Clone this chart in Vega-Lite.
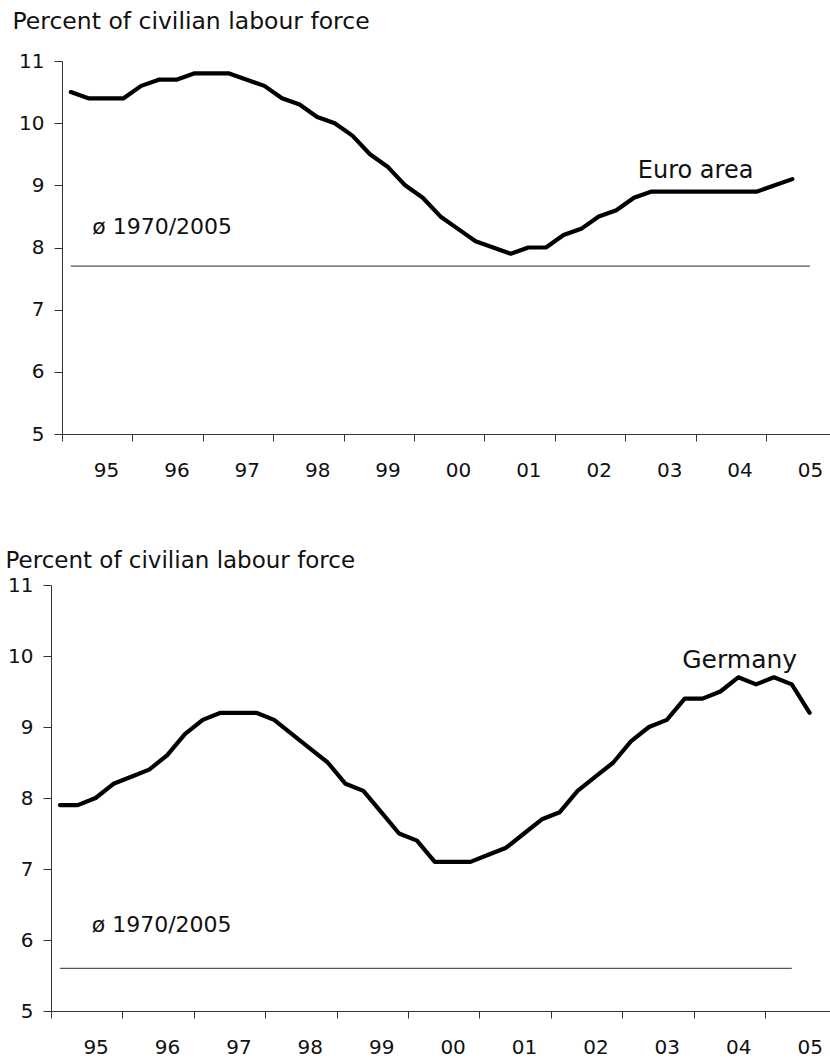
{
  "$schema": "https://vega.github.io/schema/vega-lite/v6.json",
  "padding": {"left": 5, "top": 9, "right": 0, "bottom": 0},
  "spacing": 69,
  "background": "white",
  "config": {
    "view": {"stroke": null},
    "font": "DejaVu Sans",
    "axis": {"labelFont": "DejaVu Sans", "titleFont": "DejaVu Sans", "labelColor": "#111", "titleColor": "#111", "domainColor": "#333", "tickColor": "#333", "grid": false, "titleFontWeight": "normal"},
    "text": {"font": "DejaVu Sans", "color": "#111"}
  },
  "datasets": {
    "euro": [
      {"t": 1995.125, "v": 10.5}, {"t": 1995.375, "v": 10.4}, {"t": 1995.625, "v": 10.4}, {"t": 1995.875, "v": 10.4},
      {"t": 1996.125, "v": 10.6}, {"t": 1996.375, "v": 10.7}, {"t": 1996.625, "v": 10.7}, {"t": 1996.875, "v": 10.8},
      {"t": 1997.125, "v": 10.8}, {"t": 1997.375, "v": 10.8}, {"t": 1997.625, "v": 10.7}, {"t": 1997.875, "v": 10.6},
      {"t": 1998.125, "v": 10.4}, {"t": 1998.375, "v": 10.3}, {"t": 1998.625, "v": 10.1}, {"t": 1998.875, "v": 10.0},
      {"t": 1999.125, "v": 9.8}, {"t": 1999.375, "v": 9.5}, {"t": 1999.625, "v": 9.3}, {"t": 1999.875, "v": 9.0},
      {"t": 2000.125, "v": 8.8}, {"t": 2000.375, "v": 8.5}, {"t": 2000.625, "v": 8.3}, {"t": 2000.875, "v": 8.1},
      {"t": 2001.125, "v": 8.0}, {"t": 2001.375, "v": 7.9}, {"t": 2001.625, "v": 8.0}, {"t": 2001.875, "v": 8.0},
      {"t": 2002.125, "v": 8.2}, {"t": 2002.375, "v": 8.3}, {"t": 2002.625, "v": 8.5}, {"t": 2002.875, "v": 8.6},
      {"t": 2003.125, "v": 8.8}, {"t": 2003.375, "v": 8.9}, {"t": 2003.625, "v": 8.9}, {"t": 2003.875, "v": 8.9},
      {"t": 2004.125, "v": 8.9}, {"t": 2004.375, "v": 8.9}, {"t": 2004.625, "v": 8.9}, {"t": 2004.875, "v": 8.9},
      {"t": 2005.125, "v": 9.0}, {"t": 2005.375, "v": 9.1}
    ],
    "germany": [
      {"t": 1995.125, "v": 7.9}, {"t": 1995.375, "v": 7.9}, {"t": 1995.625, "v": 8.0}, {"t": 1995.875, "v": 8.2},
      {"t": 1996.125, "v": 8.3}, {"t": 1996.375, "v": 8.4}, {"t": 1996.625, "v": 8.6}, {"t": 1996.875, "v": 8.9},
      {"t": 1997.125, "v": 9.1}, {"t": 1997.375, "v": 9.2}, {"t": 1997.625, "v": 9.2}, {"t": 1997.875, "v": 9.2},
      {"t": 1998.125, "v": 9.1}, {"t": 1998.375, "v": 8.9}, {"t": 1998.625, "v": 8.7}, {"t": 1998.875, "v": 8.5},
      {"t": 1999.125, "v": 8.2}, {"t": 1999.375, "v": 8.1}, {"t": 1999.625, "v": 7.8}, {"t": 1999.875, "v": 7.5},
      {"t": 2000.125, "v": 7.4}, {"t": 2000.375, "v": 7.1}, {"t": 2000.625, "v": 7.1}, {"t": 2000.875, "v": 7.1},
      {"t": 2001.125, "v": 7.2}, {"t": 2001.375, "v": 7.3}, {"t": 2001.625, "v": 7.5}, {"t": 2001.875, "v": 7.7},
      {"t": 2002.125, "v": 7.8}, {"t": 2002.375, "v": 8.1}, {"t": 2002.625, "v": 8.3}, {"t": 2002.875, "v": 8.5},
      {"t": 2003.125, "v": 8.8}, {"t": 2003.375, "v": 9.0}, {"t": 2003.625, "v": 9.1}, {"t": 2003.875, "v": 9.4},
      {"t": 2004.125, "v": 9.4}, {"t": 2004.375, "v": 9.5}, {"t": 2004.625, "v": 9.7}, {"t": 2004.875, "v": 9.6},
      {"t": 2005.125, "v": 9.7}, {"t": 2005.375, "v": 9.6}, {"t": 2005.625, "v": 9.2}
    ],
    "euroAvg": [{"t": 1995.125, "v": 7.7}, {"t": 2005.625, "v": 7.7}],
    "germanyAvg": [{"t": 1995.125, "v": 5.6}, {"t": 2005.375, "v": 5.6}],
    "one": [{}]
  },
  "vconcat": [
    {
      "width": 779,
      "height": 373,
      "layer": [
        {
          "data": {"name": "euroAvg"},
          "mark": {"type": "line", "color": "#555", "strokeWidth": 1.3},
          "encoding": {
            "x": {"field": "t", "type": "quantitative",
              "scale": {"domain": [1995, 2005.91], "range": [11, 779], "nice": false, "zero": false},
              "axis": {"title": null, "values": [1995, 1996, 1997, 1998, 1999, 2000, 2001, 2002, 2003, 2004, 2005],
                "labelExpr": "substring(toString(datum.value), 2, 4)", "labelOffset": 44, "labelFlush": false, "labelBound": false, "labelOverlap": false,
                "tickSize": 7, "labelPadding": 19, "labelFontSize": 20, "labelBaseline": "top"}},
            "y": {"field": "v", "type": "quantitative",
              "scale": {"domain": [5, 11], "nice": false, "zero": false},
              "axis": {"values": [5, 6, 7, 8, 9, 10, 11], "format": "d", "offset": -11, "tickSize": 8, "labelPadding": 10, "labelFontSize": 20,
                "title": "Percent of civilian labour force", "titleAngle": 0, "titleAlign": "left", "titleBaseline": "alphabetic",
                "titleX": -50, "titleY": -33, "titleFontSize": 23.5}}
          }
        },
        {
          "data": {"name": "euro"},
          "mark": {"type": "line", "color": "black", "strokeWidth": 4.2, "strokeCap": "round", "strokeJoin": "round"},
          "encoding": {"x": {"field": "t", "type": "quantitative"}, "y": {"field": "v", "type": "quantitative"}}
        },
        {
          "data": {"name": "one"},
          "mark": {"type": "text", "align": "left", "baseline": "alphabetic", "fontSize": 24},
          "encoding": {"x": {"datum": 2003.18, "type": "quantitative"}, "y": {"datum": 9.11, "type": "quantitative"}, "text": {"value": "Euro area"}}
        },
        {
          "data": {"name": "one"},
          "mark": {"type": "text", "align": "left", "baseline": "alphabetic", "fontSize": 22},
          "encoding": {"x": {"datum": 1995.43, "type": "quantitative"}, "y": {"datum": 8.22, "type": "quantitative"}, "text": {"value": "ø 1970/2005"}}
        }
      ]
    },
    {
      "width": 779,
      "height": 426,
      "layer": [
        {
          "data": {"name": "germanyAvg"},
          "mark": {"type": "line", "color": "#555", "strokeWidth": 1.3},
          "encoding": {
            "x": {"field": "t", "type": "quantitative",
              "scale": {"domain": [1995, 2005.91], "nice": false, "zero": false},
              "axis": {"title": null, "values": [1995, 1996, 1997, 1998, 1999, 2000, 2001, 2002, 2003, 2004, 2005],
                "labelExpr": "substring(toString(datum.value), 2, 4)", "labelOffset": 44.6, "labelFlush": false, "labelBound": false, "labelOverlap": false,
                "tickSize": 7, "labelPadding": 19, "labelFontSize": 20, "labelBaseline": "top"}},
            "y": {"field": "v", "type": "quantitative",
              "scale": {"domain": [5, 11], "nice": false, "zero": false},
              "axis": {"values": [5, 6, 7, 8, 9, 10, 11], "format": "d", "tickSize": 8, "labelPadding": 10, "labelFontSize": 20,
                "title": "Percent of civilian labour force", "titleAngle": 0, "titleAlign": "left", "titleBaseline": "alphabetic",
                "titleX": -46, "titleY": -18, "titleFontSize": 23}}
          }
        },
        {
          "data": {"name": "germany"},
          "mark": {"type": "line", "color": "black", "strokeWidth": 4.2, "strokeCap": "round", "strokeJoin": "round"},
          "encoding": {"x": {"field": "t", "type": "quantitative"}, "y": {"field": "v", "type": "quantitative"}}
        },
        {
          "data": {"name": "one"},
          "mark": {"type": "text", "align": "left", "baseline": "alphabetic", "fontSize": 25},
          "encoding": {"x": {"datum": 2003.84, "type": "quantitative"}, "y": {"datum": 9.83, "type": "quantitative"}, "text": {"value": "Germany"}}
        },
        {
          "data": {"name": "one"},
          "mark": {"type": "text", "align": "left", "baseline": "alphabetic", "fontSize": 22},
          "encoding": {"x": {"datum": 1995.57, "type": "quantitative"}, "y": {"datum": 6.11, "type": "quantitative"}, "text": {"value": "ø 1970/2005"}}
        }
      ]
    }
  ]
}
